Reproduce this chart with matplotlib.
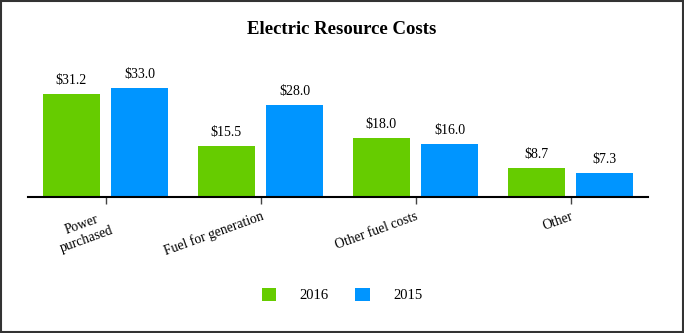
import matplotlib.pyplot as plt
from matplotlib.patches import Rectangle
import numpy as np

categories = ['Power\npurchased', 'Fuel for generation', 'Other fuel costs', 'Other']
costs_2016 = [31.2, 15.5, 18.0, 8.7]
costs_2015 = [33.0, 28.0, 16.0, 7.3]
series_names = ['2016', '2015']

GREEN = '#66cc00'
BLUE = '#0095ff'

plt.rcParams['font.family'] = 'Liberation Serif'

fig = plt.figure(figsize=(6.84, 3.33), dpi=100)
ax = fig.add_axes([28 / 684, 136 / 333, 620 / 684, 150 / 333])

x = np.arange(len(categories))
w = 0.37
off = 0.22
b1 = ax.bar(x - off, costs_2016, w, color=GREEN, label=series_names[0])
b2 = ax.bar(x + off, costs_2015, w, color=BLUE, label=series_names[1])

for bars, vals in ((b1, costs_2016), (b2, costs_2015)):
    for rect, v in zip(bars, vals):
        ax.annotate('$%.1f' % v, (rect.get_x() + rect.get_width() / 2, v),
                    xytext=(0, 5), textcoords='offset points',
                    ha='center', va='bottom', fontsize=10)

ax.set_xlim(-0.5, 3.5)
ax.set_ylim(0, 150 / 3.3)
ax.set_xticks(x)
ax.set_xticklabels(categories, rotation=20, ha='right', rotation_mode='anchor',
                   multialignment='center', fontsize=9.8)
ax.tick_params(axis='x', length=5, width=1, color='#444444', pad=4)
ax.set_yticks([])
for side in ('top', 'right', 'left'):
    ax.spines[side].set_visible(False)
ax.spines['bottom'].set_linewidth(1.5)

fig.text(0.5, 303 / 333, 'Electric Resource Costs', ha='center', va='center',
         fontsize=13.5, fontweight='bold')

fig.legend(loc='center', bbox_to_anchor=(0.5, 0.114), ncol=2, frameon=False,
           handlelength=1.0, handleheight=1.0, handletextpad=1.6,
           columnspacing=1.8, fontsize=10.5)

# frame round the whole figure
fig.patches.append(Rectangle((0.001, 0.002), 0.997, 0.995, transform=fig.transFigure,
                             fill=False, edgecolor='#333333', linewidth=1.5))

fig.savefig('out.png', dpi=100)
